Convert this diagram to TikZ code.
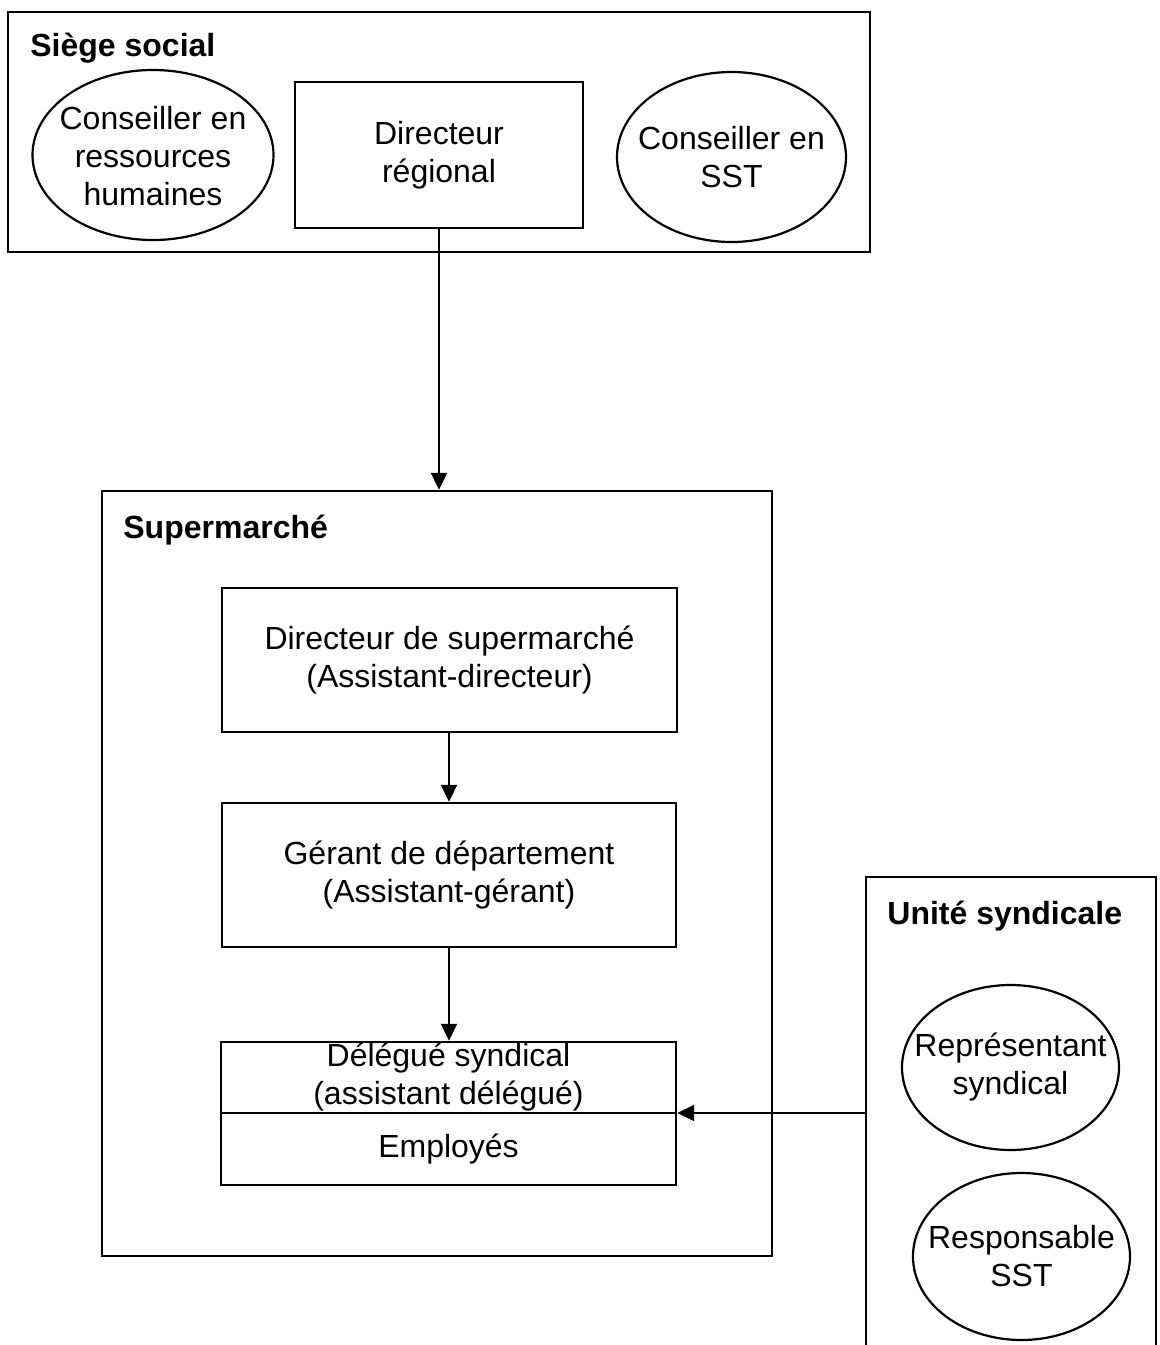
\documentclass[tikz,border=0pt]{standalone}
\usepackage{fontspec}
\setmainfont{Liberation Sans}
\usetikzlibrary{arrows.meta,positioning,shapes.geometric}

\begin{document}
\begin{tikzpicture}[x=0.5pt,y=-0.5pt,
	font=\fontsize{16}{19}\selectfont,
	>={Triangle[width=8pt,length=8.5pt]},
	cadre/.style={draw,line width=1.2pt,inner sep=0pt},
	boite/.style={draw,line width=1.2pt,align=center,inner sep=0pt},
	bulle/.style={draw,ellipse,line width=1.1pt,inner sep=0pt},
	texte/.style={align=center,inner sep=0pt},
	titre/.style={anchor=west,inner sep=0pt,font=\fontsize{16}{19}\selectfont\bfseries},
	fleche/.style={->,line width=1pt}]

\useasboundingbox (0,0) rectangle (1160,1345);

% siege social
\node[cadre,minimum width=431pt,minimum height=120pt] (siege) at (439,132) {};
\node[titre] (tsiege) at (30,48) {Siège social};

\node[bulle,minimum width=120.5pt,minimum height=85pt] (rh) at (153,155) {};
\node[texte] (trh) at (153,156) {Conseiller en\\ressources\\humaines};

\node[boite,minimum width=144pt,minimum height=73pt] (dirreg) at (439,155) {Directeur\\régional};

\node[bulle,minimum width=114.5pt,minimum height=85pt] (sst) at (731.5,157) {};
\node[texte] (tsst) at (731.5,157) {Conseiller en\\SST};

% supermarche
\node[cadre,minimum width=335pt,minimum height=382.5pt] (supermarche) at (437,873.5) {};
\node[titre] (tsuper) at (123,530) {Supermarché};

\node[boite,minimum width=227.5pt,minimum height=72pt] (dirsuper) at (449.5,660) {Directeur de supermarché\\(Assistant-directeur)};
\node[boite,minimum width=227pt,minimum height=72pt] (gerant) at (449,875) {Gérant de département\\(Assistant-gérant)};
\node[boite,minimum width=227.5pt,minimum height=35.5pt] (delegue) at (448.5,1077.5) {Délégué syndical\\(assistant délégué)};
\node[boite,minimum width=227.5pt,minimum height=36pt] (employes) at (448.5,1149) {Employés};

% unite syndicale
\draw[line width=1.2pt] (866,1345) |- (1156,877) -- (1156,1345);
\coordinate (uniteW) at (866,1113);
\node[titre] (tunite) at (887,916) {Unité syndicale};

\node[bulle,minimum width=108.5pt,minimum height=82.5pt] (rep) at (1010.5,1067.5) {};
\node[texte] (trep) at (rep) {Représentant\\syndical};
\node[bulle,minimum width=108.5pt,minimum height=83.5pt] (resp) at (1021.5,1256.5) {};
\node[texte] (tresp) at (resp) {Responsable\\SST};

% liens
\draw[fleche] (dirreg.south) -- (dirreg.south |- supermarche.north);
\draw[fleche] (gerant.north |- dirsuper.south) -- (gerant.north);
\draw[fleche] (gerant.south) -- (gerant.south |- delegue.north);
\draw[fleche] (uniteW) -- (uniteW -| delegue.east);

\end{tikzpicture}
\end{document}
